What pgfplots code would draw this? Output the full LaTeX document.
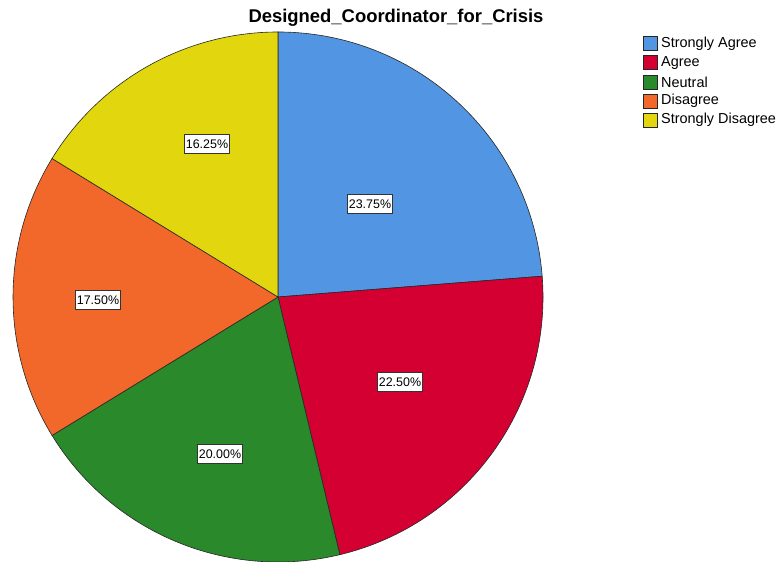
\documentclass[border=0pt]{standalone}
\usepackage{fontspec}
\setmainfont{Liberation Sans}
\usepackage{pgfplots}
\pgfplotsset{compat=1.18}
\definecolor{sagree}{RGB}{82,149,226}
\definecolor{agree}{RGB}{213,0,50}
\definecolor{neutral}{RGB}{42,137,42}
\definecolor{disagree}{RGB}{242,104,43}
\definecolor{sdisagree}{RGB}{226,214,14}
\begin{document}
\begin{tikzpicture}[x=1bp,y=1bp]
% shares in percent, clockwise from 12 o'clock
\def\vA{23.75}\def\vB{22.50}\def\vC{20.00}\def\vD{17.50}\def\vE{16.25}
\pgfmathsetmacro{\aA}{90}
\pgfmathsetmacro{\aB}{\aA-3.6*\vA}
\pgfmathsetmacro{\aC}{\aB-3.6*\vB}
\pgfmathsetmacro{\aD}{\aC-3.6*\vC}
\pgfmathsetmacro{\aE}{\aD-3.6*\vD}
\pgfmathsetmacro{\aF}{\aE-3.6*\vE}
\begin{axis}[
  at={(0,0)}, anchor=south west,
  width=781bp, height=562bp, scale only axis,
  xmin=0, xmax=781, ymin=0, ymax=562,
  hide axis, clip=true,
]
\tikzset{
  wedge/.style={draw=black!85,line width=0.6pt},
  pct/.style={draw=black!80,fill=white,line width=0.6pt,font=\fontsize{12.5}{13}\selectfont,
    inner xsep=1.5bp,inner ysep=0pt,minimum height=19bp},
  key/.style={draw=black!85,line width=0.6pt,minimum size=14bp,inner sep=0pt},
  keytxt/.style={anchor=west,font=\fontsize{14.5}{15}\selectfont,inner sep=0pt},
}
\filldraw[wedge,fill=sagree]   (axis cs:278,265) -- ++(\aA:265bp) arc[start angle=\aA,end angle=\aB,radius=265bp] -- cycle;
\filldraw[wedge,fill=agree]    (axis cs:278,265) -- ++(\aB:265bp) arc[start angle=\aB,end angle=\aC,radius=265bp] -- cycle;
\filldraw[wedge,fill=neutral]  (axis cs:278,265) -- ++(\aC:265bp) arc[start angle=\aC,end angle=\aD,radius=265bp] -- cycle;
\filldraw[wedge,fill=disagree] (axis cs:278,265) -- ++(\aD:265bp) arc[start angle=\aD,end angle=\aE,radius=265bp] -- cycle;
\filldraw[wedge,fill=sdisagree](axis cs:278,265) -- ++(\aE:265bp) arc[start angle=\aE,end angle=\aF,radius=265bp] -- cycle;
% value labels
\node[pct] at (axis cs:370,358) {23.75\%};
\node[pct] at (axis cs:400,180) {22.50\%};
\node[pct] at (axis cs:220,108) {20.00\%};
\node[pct] at (axis cs:98,262)  {17.50\%};
\node[pct] at (axis cs:207,418) {16.25\%};
% title
\node[font=\bfseries\fontsize{18.5}{20}\selectfont] at (axis cs:396,544) {Designed\_Coordinator\_for\_Crisis};
% legend
\node[key,fill=sagree]    at (axis cs:650,518.3) {};
\node[key,fill=agree]     at (axis cs:650,499.2) {};
\node[key,fill=neutral]   at (axis cs:650,480.1) {};
\node[key,fill=disagree]  at (axis cs:650,461.1) {};
\node[key,fill=sdisagree] at (axis cs:650,442.0) {};
\node[keytxt] at (axis cs:661,518.3) {Strongly Agree};
\node[keytxt] at (axis cs:661,499.2) {Agree};
\node[keytxt] at (axis cs:661,480.1) {Neutral};
\node[keytxt] at (axis cs:661,461.1) {Disagree};
\node[keytxt] at (axis cs:661,442.0) {Strongly Disagree};
\end{axis}
\pgfresetboundingbox
\path (0,0) rectangle (781,562);
\end{tikzpicture}
\end{document}
